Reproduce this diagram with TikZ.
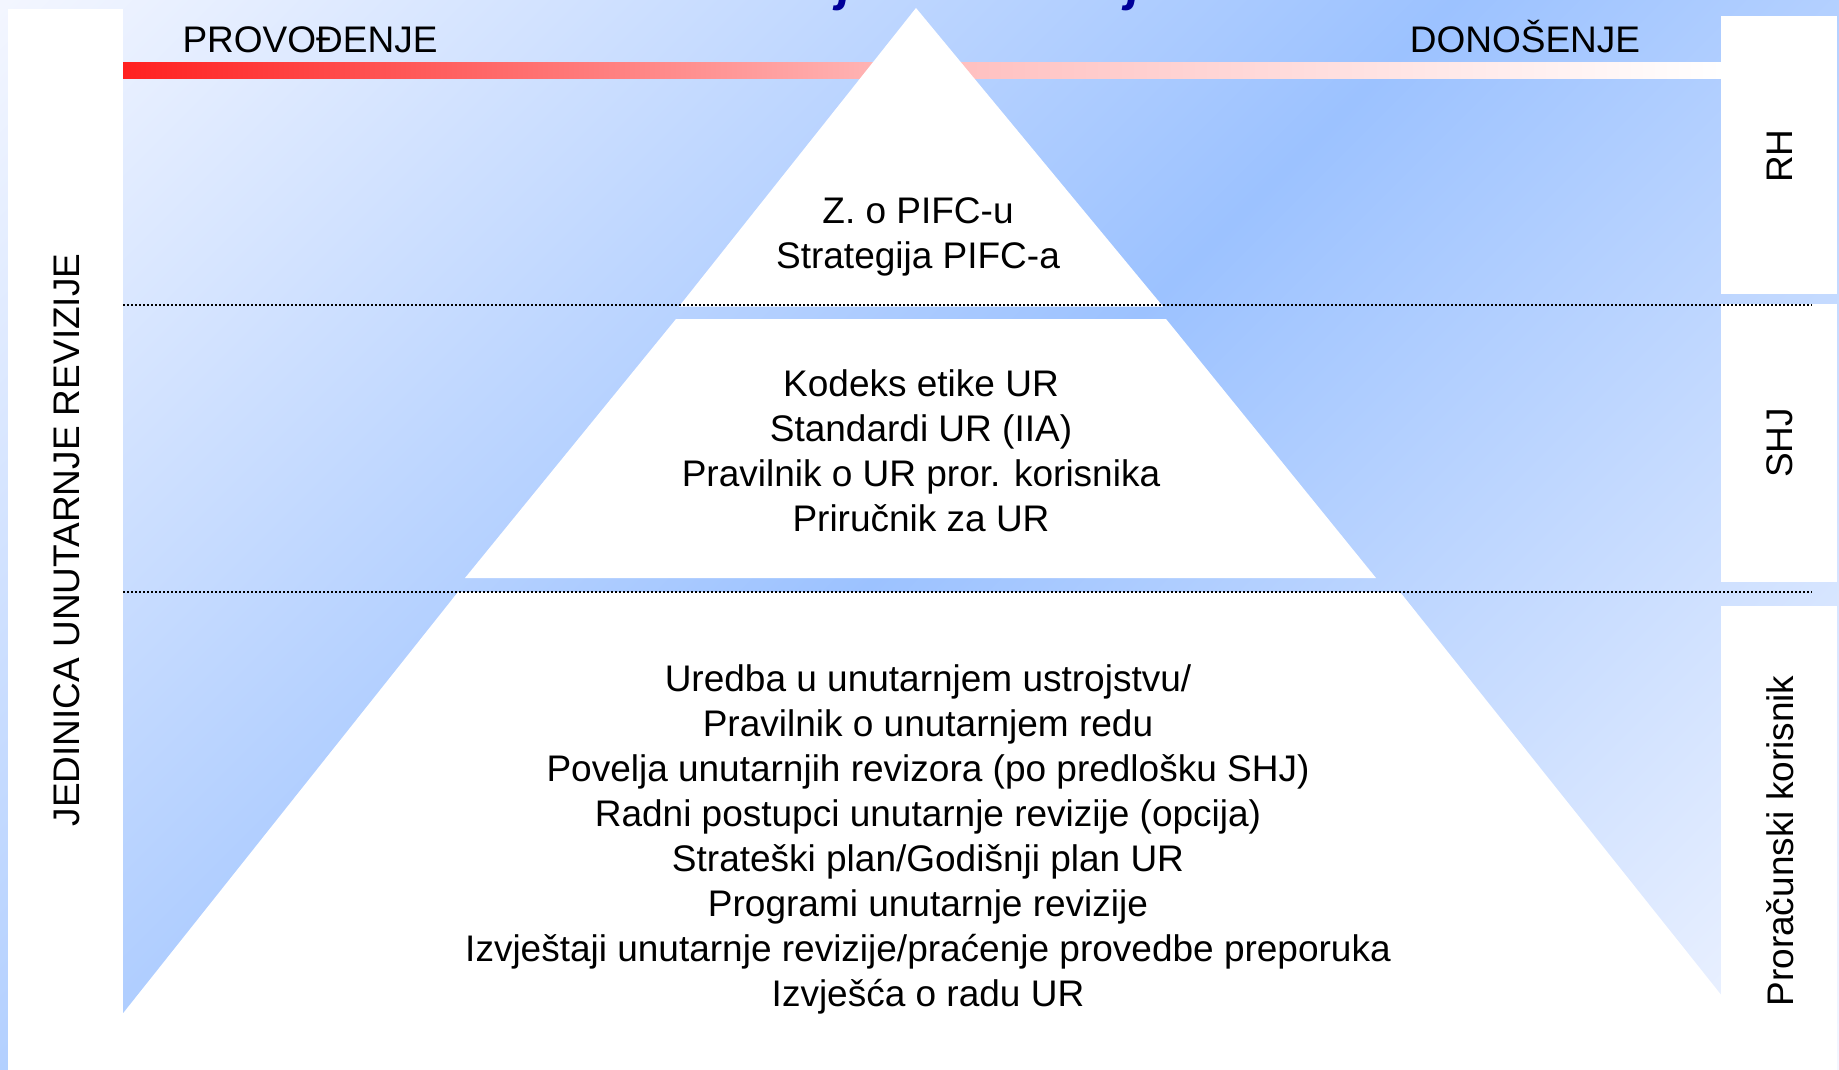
\documentclass[tikz,border=0pt]{standalone}
\usepackage{fontspec}
\setmainfont{Liberation Sans}
\definecolor{bgl}{RGB}{243,246,255}
\definecolor{bgb}{RGB}{156,194,255}
\definecolor{barred}{RGB}{255,32,32}
\definecolor{barmid}{RGB}{255,189,189}
\definecolor{navy}{RGB}{0,0,153}
\pgfdeclareverticalshading{bgshade}{100bp}{color(0bp)=(bgl); color(14.6bp)=(bgl); color(50bp)=(bgb); color(85.4bp)=(bgl); color(100bp)=(bgl)}
\begin{document}
\begin{tikzpicture}[x=1pt,y=-1pt,
  piece/.style={fill=white, draw=none},
  sidebox/.style={fill=white, draw=none},
  divider/.style={draw=black, line width=1.6pt, dash pattern=on 1.8pt off 2.2pt},
  body/.style={font=\fontsize{37}{45}\selectfont, align=center, inner sep=0pt},
  side/.style={font=\fontsize{37}{45}\selectfont, rotate=90, inner sep=0pt},
  head/.style={font=\fontsize{37}{44}\selectfont, inner sep=0pt, anchor=base},
  frag/.style={font=\fontsize{50}{60}\selectfont\bfseries\itshape, text=navy, inner sep=0pt, anchor=base west}]
\useasboundingbox (0,0) rectangle (1839,1070);
% background
\shade[shading=bgshade, shading angle=45] (0,0) rectangle (1839,1070);
% red bar
\shade[left color=barred, right color=white, middle color=barmid] (123,63) rectangle (1721,79);
% pyramid pieces
\fill[piece] (916,8) -- (1163,306.5) -- (679,306.5) -- cycle;
\fill[piece] (676,319) -- (1166,319) -- (1376,578) -- (465,578) -- cycle;
\fill[piece] (458,592) -- (1400,592) -- (1781,1070) -- (78,1070) -- cycle;
% side strips
\fill[sidebox] (8,9) rectangle (123,1070);
\fill[sidebox] (1721,16) rectangle (1837,294);
\fill[sidebox] (1721,304) rectangle (1837,582);
\fill[sidebox] (1721,606) rectangle (1837,1070);
% dotted dividers
\draw[divider] (123,305) -- (1812,305);
\draw[divider] (123,592) -- (1812,592);
% texts
\node[head] (prov) at (310,53) {PROVOĐENJE};
\node[head] (don) at (1525,53) {DONOŠENJE};
\node[body] (top) at (918,237) {Z. o PIFC-u\\Strategija PIFC-a};
\node[body] (mid) at (921,450.5) {Kodeks etike UR\\Standardi UR (IIA)\\Pravilnik o UR pror. korisnika\\Priručnik za UR};
\node[body] (bot) at (928,839) {Uredba u unutarnjem ustrojstvu/\\Pravilnik o unutarnjem redu\\Povelja unutarnjih revizora (po predlošku SHJ)\\Radni postupci unutarnje revizije (opcija)\\Strateški plan/Godišnji plan UR\\Programi unutarnje revizije\\Izvještaji unutarnje revizije/praćenje provedbe preporuka\\Izvješća o radu UR};
\node[side] (rh) at (1780,156) {RH};
\node[side] (shj) at (1780,443) {SHJ};
\node[side] (pk) at (1780,841) {Proračunski korisnik};
\node[side] (jur) at (67,540) {JEDINICA UNUTARNJE REVIZIJE};
% cut-off title fragments
\node[frag] (fj1) at (838,1) {j};
\node[frag] (fj2) at (1127,1) {j};
\end{tikzpicture}
\end{document}
